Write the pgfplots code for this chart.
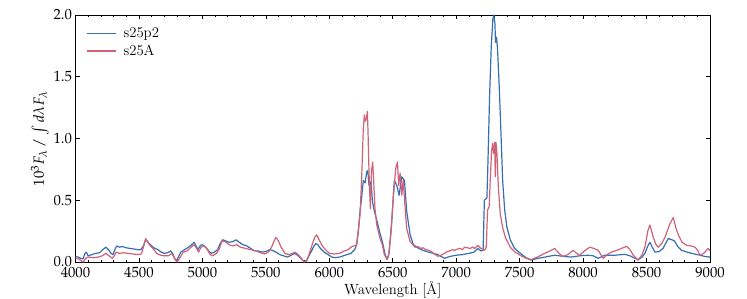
\documentclass[border=0pt]{standalone}
\usepackage{mathpazo}
\usepackage{pgfplots}
\pgfplotsset{compat=1.18}
\definecolor{cblue}{RGB}{55,110,178}
\definecolor{cred}{RGB}{208,98,120}
\newcommand{\bigf}{\fontsize{14.8}{17}\selectfont}
\begin{document}
\begin{tikzpicture}[font=\bigf]
\path[use as bounding box] (-75.5bp,-37bp) rectangle (671.5bp,262bp);
\begin{axis}[
  at={(0,0)}, anchor=south west,
  scale only axis, width=634.5bp, height=247bp,
  xmin=4000, xmax=9000, ymin=0, ymax=2,
  xtick={4000,4500,...,9000}, ytick={0,0.5,...,2},
  minor x tick num=4, minor y tick num=0,
  tick align=inside,
  major tick length=4.5bp, minor tick length=2.5bp,
  axis line style={line width=0.9bp},
  every tick/.style={line width=0.7bp, black},
  tick label style={font=\bigf},
  label style={font=\bigf},
  x tick label style={/pgf/number format/1000 sep={}, yshift=-2bp},
  y tick label style={/pgf/number format/.cd, fixed, fixed zerofill, precision=1},
  xlabel={Wavelength [\AA]},
  ylabel={$10^3 F_\lambda\,/\int d\lambda F_\lambda$},
  xlabel style={yshift=4bp},
  ylabel style={yshift=-2bp},
  legend style={at={(0.012,0.965)}, anchor=north west, draw=none, fill=none,
    row sep=2bp, font=\bigf, /tikz/every odd column/.append style={column sep=5bp}},
  legend cell align=left,
  legend image code/.code={\draw[#1, line width=1.3bp] (0bp,0bp) -- (29bp,0bp);},
  every axis plot/.append style={line width=1.2bp, line join=round},
]
\addplot[cblue] coordinates {
(4000,0.045)(4020,0.04)(4040,0.03)(4060,0.025)(4075,0.07)(4085,0.08)(4100,0.05)(4130,0.06)(4160,0.07)(4190,0.075)
(4215,0.1)(4240,0.12)(4260,0.1)(4280,0.07)(4295,0.06)(4310,0.1)(4325,0.13)(4345,0.12)(4370,0.125)(4400,0.115)
(4430,0.11)(4460,0.105)(4490,0.1)(4515,0.1)(4535,0.13)(4553,0.18)(4565,0.17)(4580,0.15)(4600,0.13)(4625,0.11)
(4650,0.1)(4675,0.08)(4700,0.07)(4725,0.075)(4750,0.09)(4765,0.07)(4780,0.03)(4795,0.01)(4810,0.04)(4830,0.08)
(4860,0.1)(4890,0.12)(4915,0.14)(4935,0.16)(4950,0.13)(4965,0.1)(4985,0.135)(5000,0.14)(5025,0.12)(5050,0.09)
(5070,0.07)(5095,0.08)(5120,0.1)(5140,0.15)(5160,0.18)(5185,0.17)(5210,0.16)(5240,0.165)(5265,0.18)(5290,0.16)
(5320,0.14)(5350,0.13)(5380,0.11)(5410,0.09)(5440,0.09)(5470,0.08)(5500,0.085)(5530,0.1)(5550,0.095)(5580,0.08)
(5610,0.06)(5640,0.05)(5670,0.04)(5700,0.055)(5725,0.07)(5750,0.055)(5775,0.03)(5800,0.005)(5820,0.01)(5840,0.05)
(5860,0.09)(5880,0.13)(5895,0.15)(5910,0.14)(5930,0.11)(5960,0.08)(5990,0.06)(6020,0.04)(6050,0.035)(6080,0.04)
(6110,0.05)(6140,0.06)(6170,0.07)(6200,0.1)(6215,0.14)(6229,0.25)(6242,0.41)(6255,0.52)(6268,0.66)(6282,0.64)
(6295,0.73)(6303,0.74)(6313,0.62)(6329,0.65)(6340,0.49)(6355,0.41)(6374,0.34)(6400,0.23)(6418,0.165)(6440,0.06)
(6455,0.02)(6471,0.07)(6492,0.33)(6513,0.66)(6532,0.62)(6550,0.54)(6571,0.69)(6592,0.66)(6610,0.41)(6637,0.22)
(6663,0.14)(6703,0.11)(6750,0.09)(6800,0.075)(6855,0.06)(6908,0.03)(6950,0.045)(7000,0.055)(7050,0.06)(7100,0.07)
(7140,0.08)(7171,0.11)(7195,0.09)(7212,0.095)(7222,0.5)(7242,0.52)(7250,0.8)(7263,1.34)(7276,1.74)(7289,1.97)
(7297,2.0)(7305,1.93)(7310,1.78)(7318,1.82)(7326,1.72)(7339,1.42)(7353,1.04)(7366,0.66)(7382,0.42)(7400,0.28)
(7426,0.18)(7460,0.11)(7500,0.075)(7550,0.035)(7590,0.015)(7645,0.03)(7700,0.04)(7776,0.055)(7850,0.045)(7908,0.04)
(7970,0.05)(8040,0.055)(8080,0.05)(8118,0.03)(8171,0.055)(8250,0.055)(8329,0.062)(8370,0.05)(8408,0.03)(8434,0.02)
(8465,0.04)(8487,0.07)(8510,0.13)(8526,0.16)(8545,0.12)(8566,0.08)(8600,0.085)(8630,0.11)(8650,0.15)(8671,0.19)
(8700,0.18)(8720,0.17)(8750,0.12)(8776,0.095)(8820,0.08)(8855,0.07)(8900,0.06)(8961,0.045)(9000,0.04)
};
\addlegendentry{s25p2}
\addplot[cred] coordinates {
(4000,0.03)(4025,0.025)(4045,0.01)(4060,0.0)(4080,0.03)(4100,0.04)(4140,0.035)(4180,0.04)(4210,0.05)(4240,0.07)
(4265,0.05)(4290,0.03)(4305,0.05)(4320,0.08)(4345,0.07)(4380,0.075)(4410,0.07)(4450,0.065)(4490,0.06)(4520,0.065)
(4538,0.13)(4553,0.19)(4570,0.16)(4590,0.13)(4610,0.11)(4640,0.07)(4670,0.055)(4700,0.05)(4730,0.05)(4760,0.07)
(4780,0.03)(4800,0.0)(4820,0.03)(4850,0.08)(4880,0.09)(4910,0.12)(4935,0.14)(4955,0.11)(4970,0.08)(4990,0.12)
(5010,0.13)(5035,0.11)(5060,0.06)(5080,0.05)(5110,0.07)(5130,0.1)(5155,0.17)(5180,0.165)(5210,0.14)(5240,0.13)
(5270,0.14)(5300,0.12)(5340,0.11)(5380,0.1)(5420,0.09)(5460,0.075)(5490,0.065)(5520,0.08)(5545,0.12)(5565,0.17)
(5580,0.2)(5600,0.17)(5620,0.12)(5650,0.07)(5680,0.06)(5710,0.07)(5730,0.08)(5755,0.06)(5780,0.03)(5800,0.0)
(5820,0.005)(5840,0.06)(5865,0.14)(5885,0.2)(5900,0.22)(5920,0.18)(5945,0.13)(5970,0.1)(6000,0.07)(6040,0.065)
(6080,0.07)(6120,0.09)(6150,0.1)(6177,0.125)(6216,0.138)(6242,0.38)(6255,0.68)(6268,1.08)(6276,1.19)(6284,1.14)
(6292,1.16)(6300,1.22)(6305,1.06)(6310,0.84)(6316,0.62)(6324,0.43)(6332,0.73)(6342,0.81)(6350,0.65)(6360,0.43)
(6374,0.30)(6400,0.19)(6418,0.14)(6434,0.06)(6453,0.024)(6466,0.04)(6487,0.245)(6505,0.54)(6524,0.76)(6537,0.81)
(6547,0.62)(6558,0.72)(6571,0.54)(6582,0.66)(6592,0.52)(6610,0.27)(6637,0.165)(6676,0.12)(6700,0.125)(6720,0.11)
(6740,0.115)(6760,0.1)(6785,0.095)(6810,0.08)(6835,0.06)(6855,0.046)(6880,0.055)(6908,0.07)(6930,0.085)(6950,0.09)
(6970,0.1)(6987,0.095)(7010,0.105)(7030,0.11)(7050,0.1)(7066,0.12)(7090,0.115)(7110,0.11)(7130,0.12)(7145,0.11)
(7171,0.135)(7195,0.11)(7224,0.095)(7237,0.12)(7247,0.42)(7260,0.45)(7268,0.66)(7279,0.9)(7287,0.96)(7295,0.88)
(7303,0.97)(7308,0.69)(7313,0.97)(7321,0.88)(7332,0.61)(7347,0.39)(7366,0.28)(7387,0.2)(7426,0.12)(7465,0.08)
(7505,0.054)(7550,0.03)(7592,0.02)(7640,0.04)(7697,0.07)(7740,0.09)(7776,0.11)(7810,0.07)(7842,0.046)(7880,0.06)
(7921,0.095)(7950,0.07)(7974,0.055)(8010,0.09)(8053,0.12)(8085,0.11)(8118,0.095)(8140,0.06)(8158,0.03)(8190,0.06)
(8224,0.08)(8280,0.1)(8342,0.127)(8370,0.1)(8395,0.055)(8434,0.015)(8465,0.06)(8487,0.12)(8510,0.25)(8526,0.3)
(8540,0.25)(8553,0.2)(8575,0.14)(8592,0.12)(8620,0.15)(8645,0.2)(8670,0.27)(8684,0.31)(8700,0.34)(8711,0.36)
(8730,0.28)(8750,0.22)(8780,0.16)(8816,0.135)(8850,0.13)(8882,0.12)(8905,0.09)(8921,0.055)(8950,0.07)(8987,0.11)
(9000,0.09)
};
\addlegendentry{s25A}
\end{axis}
\end{tikzpicture}
\end{document}
